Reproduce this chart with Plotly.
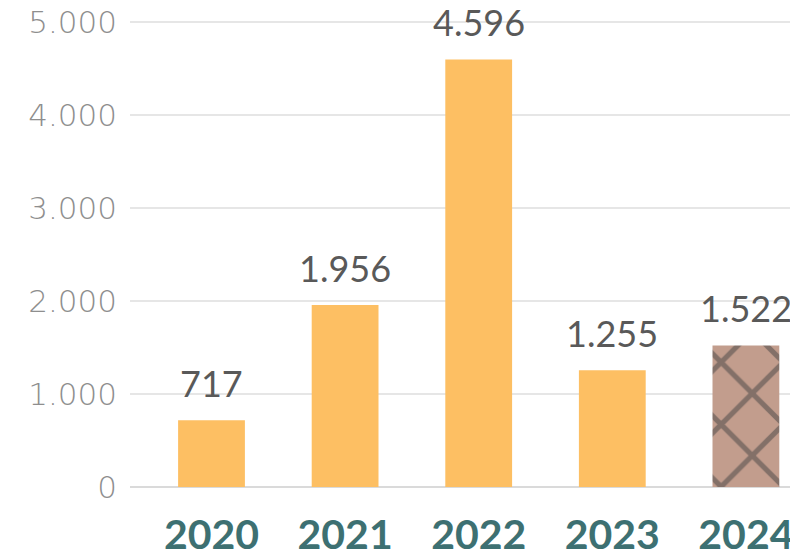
import plotly.graph_objects as go

years = ["2020", "2021", "2022", "2023", "2024"]
values = [717, 1956, 4596, 1255, 1522]
y_ticks = [0, 1000, 2000, 3000, 4000, 5000]

bar_colors = ["#FDBF63", "#FDBF63", "#FDBF63", "#FDBF63", "#C29D8D"]
pattern_shapes = ["", "", "", "", "x"]

fig = go.Figure()
fig.add_trace(go.Bar(
    x=list(range(len(years))),
    y=values,
    width=0.5,
    marker=dict(
        color=bar_colors,
        line=dict(width=0),
        pattern=dict(shape=pattern_shapes, fgcolor="#9A7263",
                     size=44, solidity=0.22, fillmode="overlay"),
    ),
    hoverinfo="skip",
))

for i, v in enumerate(values):
    fig.add_annotation(
        x=i, y=v, text=f"{v:,}".replace(",", "."),
        showarrow=False, yanchor="bottom", yshift=13,
        font=dict(family="Lato", size=36, color="#595959"),
    )

# page body has an 8px default margin: figure sized to fit the 798x560 window
fig.update_layout(
    width=790, height=544,
    margin=dict(l=122, r=0, t=12, b=65),
    paper_bgcolor="white", plot_bgcolor="white",
    separators=",.",
    showlegend=False,
    xaxis=dict(
        range=[-0.61, 4.39], automargin=False,
        tickmode="array", tickvals=list(range(len(years))), ticktext=years,
        showgrid=False, zeroline=False, showline=False, ticks="",
        tickfont=dict(family="Lato", size=41, color="#3D7072", weight="bold"),
        ticklabelstandoff=20, ticklabeloverflow="allow",
    ),
    yaxis=dict(
        range=[0, 5020], automargin=False,
        tickmode="array", tickvals=y_ticks,
        tickformat=",d",
        showgrid=True, gridcolor="#E6E6E6", gridwidth=2,
        zeroline=True, zerolinecolor="#DADADA", zerolinewidth=2,
        showline=False, ticks="",
        tickfont=dict(family="DejaVu Sans", size=31, color="#8E8E8E", weight=200),
        ticklabelstandoff=12, ticklabeloverflow="allow",
    ),
)

fig.write_html("out.html")
